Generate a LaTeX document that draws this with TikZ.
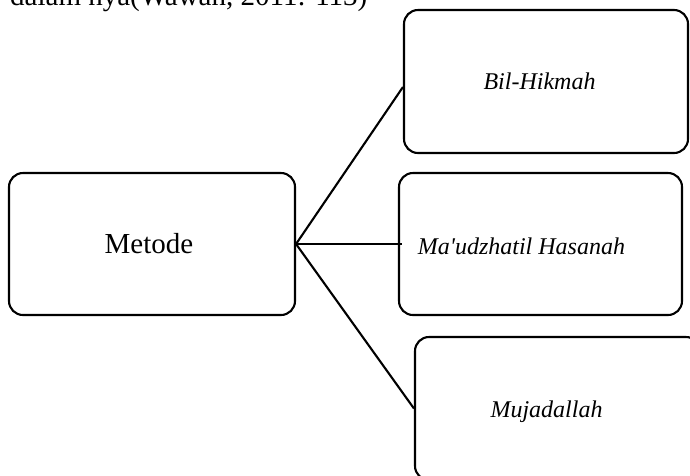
\documentclass[tikz,border=0pt]{standalone}
\usepackage{fontspec}
\setmainfont{Liberation Serif}[Ligatures=TeXOff]
\begin{document}
\begin{tikzpicture}[x=1pt,y=-1pt,
  box/.style={draw, line width=2.1pt, rounded corners=14pt, inner sep=0pt},
  lbl/.style={font=\fontsize{29}{32}\selectfont, inner sep=0pt, anchor=base},
  ilbl/.style={font=\fontsize{24}{28}\selectfont\itshape, inner sep=0pt, anchor=base},
  conn/.style={line width=2.1pt}]
\useasboundingbox (0,0) rectangle (690,475);
\clip (0,0) rectangle (690,475);
% partially visible line of text above the diagram
\node[lbl, anchor=base west] (top) at (10,5.5) {dalam nya(Wawan, 2011: 113)};
% boxes
\node[box, minimum width=286pt, minimum height=142pt] (m) at (152,244) {};
\node[box, minimum width=284pt, minimum height=143pt] (b) at (546,81.5) {};
\node[box, minimum width=283pt, minimum height=142pt] (h) at (540.5,244) {};
\node[box, minimum width=285pt, minimum height=143pt] (j) at (557.5,408.5) {};
% labels
\node[lbl] (mt) at (149,253) {Metode};
\node[ilbl] (bt) at (539.5,89) {Bil-Hikmah};
\node[ilbl] (ht) at (521.5,254) {Ma'udzhatil Hasanah};
\node[ilbl] (jt) at (546.5,417) {Mujadallah};
% connectors
\draw[conn] (m.east) -- ([yshift=-5.5pt]b.west);
\draw[conn] (m.east) -- ([xshift=4pt]h.west);
\draw[conn] (m.east) -- (j.west);
\end{tikzpicture}
\end{document}
